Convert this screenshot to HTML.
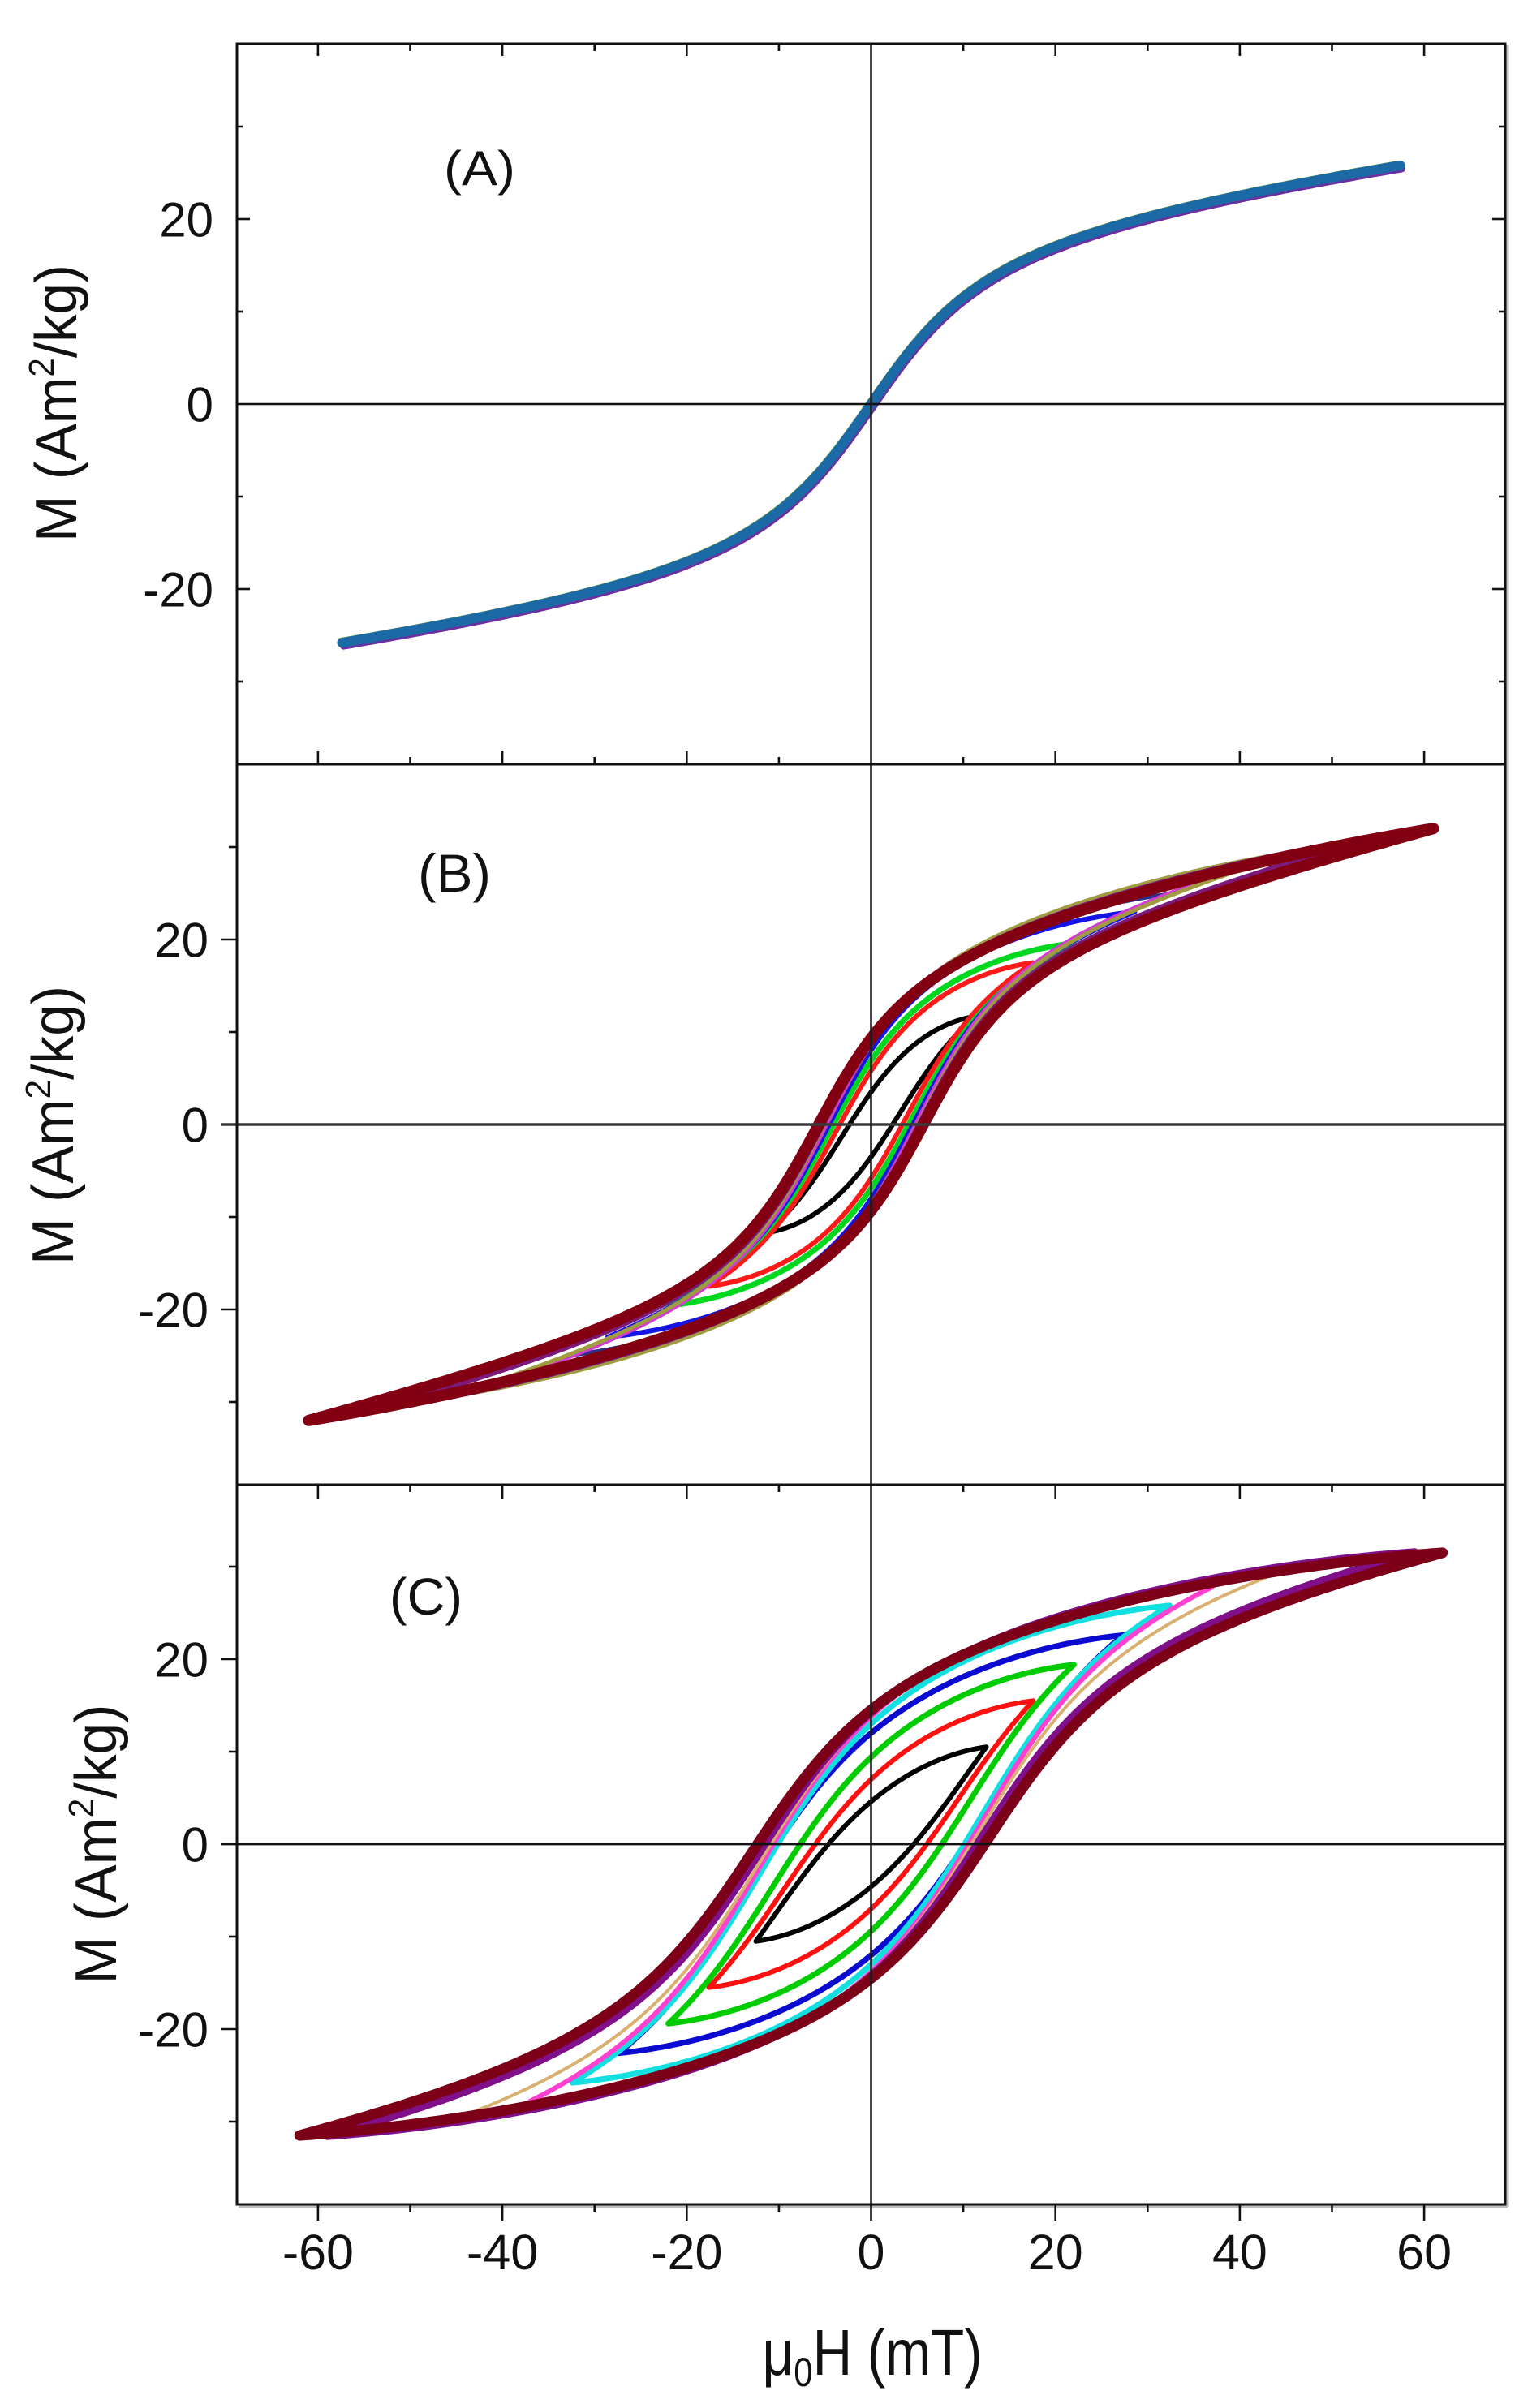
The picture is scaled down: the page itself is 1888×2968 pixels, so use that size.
<!DOCTYPE html>
<html>
<head>
<meta charset="utf-8">
<style>
  html,body{margin:0;padding:0;background:#fff;}
  svg{display:block;}
  text{font-family:"Liberation Sans", Arial, sans-serif; fill:#111;}
</style>
</head>
<body>
<svg id="s" width="1888" height="2968" viewBox="0 0 1888 2968" xmlns="http://www.w3.org/2000/svg">
  <rect x="0" y="0" width="1888" height="2968" fill="#fff"/>

  <!-- curves drawn here by script -->
  <g id="curves"></g>

  <!-- zero lines -->
  <line x1="292" y1="498" x2="1855" y2="498" stroke="#111" stroke-width="2.6"/>
  <line x1="272" y1="1386" x2="1855" y2="1386" stroke="#3a3a3a" stroke-width="3.6"/>
  <line x1="272" y1="2273" x2="1855" y2="2273" stroke="#111" stroke-width="2.8"/>
  <line x1="1073.5" y1="54" x2="1073.5" y2="2717" stroke="#1a1a1a" stroke-width="2.6"/>

  <!-- frame -->
  <line x1="1858" y1="56" x2="1858" y2="2720" stroke="#bdbdbd" stroke-width="3"/>
  <line x1="294" y1="2720" x2="1858" y2="2720" stroke="#bdbdbd" stroke-width="3"/>
  <rect x="292" y="54" width="1563" height="2663" fill="none" stroke="#111" stroke-width="3"/>
  <line x1="292" y1="942" x2="1855" y2="942" stroke="#111" stroke-width="3"/>
  <line x1="292" y1="1830" x2="1855" y2="1830" stroke="#111" stroke-width="3"/>

  <g stroke="#111" stroke-width="2.6">
    <!-- Panel A top ticks (down) -->
    <line x1="391.9" y1="54" x2="391.9" y2="69"/>
    <line x1="505.5" y1="54" x2="505.5" y2="63"/>
    <line x1="619.1" y1="54" x2="619.1" y2="69"/>
    <line x1="732.7" y1="54" x2="732.7" y2="63"/>
    <line x1="846.3" y1="54" x2="846.3" y2="69"/>
    <line x1="959.9" y1="54" x2="959.9" y2="63"/>
    <line x1="1187.1" y1="54" x2="1187.1" y2="63"/>
    <line x1="1300.7" y1="54" x2="1300.7" y2="69"/>
    <line x1="1414.3" y1="54" x2="1414.3" y2="63"/>
    <line x1="1527.9" y1="54" x2="1527.9" y2="69"/>
    <line x1="1641.5" y1="54" x2="1641.5" y2="63"/>
    <line x1="1755.1" y1="54" x2="1755.1" y2="69"/>
    <!-- Panel A bottom ticks (up) -->
    <line x1="391.9" y1="942" x2="391.9" y2="926"/>
    <line x1="505.5" y1="942" x2="505.5" y2="933"/>
    <line x1="619.1" y1="942" x2="619.1" y2="926"/>
    <line x1="732.7" y1="942" x2="732.7" y2="933"/>
    <line x1="846.3" y1="942" x2="846.3" y2="926"/>
    <line x1="959.9" y1="942" x2="959.9" y2="933"/>
    <line x1="1187.1" y1="942" x2="1187.1" y2="933"/>
    <line x1="1300.7" y1="942" x2="1300.7" y2="926"/>
    <line x1="1414.3" y1="942" x2="1414.3" y2="933"/>
    <line x1="1527.9" y1="942" x2="1527.9" y2="926"/>
    <line x1="1641.5" y1="942" x2="1641.5" y2="933"/>
    <line x1="1755.1" y1="942" x2="1755.1" y2="926"/>
    <!-- Panel A left ticks (in) -->
    <line x1="292" y1="156" x2="299" y2="156"/>
    <line x1="292" y1="270" x2="308" y2="270"/>
    <line x1="292" y1="384" x2="299" y2="384"/>
    <line x1="292" y1="612" x2="299" y2="612"/>
    <line x1="292" y1="726" x2="308" y2="726"/>
    <line x1="292" y1="840" x2="299" y2="840"/>
    <!-- Panel A right ticks (in) -->
    <line x1="1855" y1="156" x2="1847" y2="156"/>
    <line x1="1855" y1="270" x2="1839" y2="270"/>
    <line x1="1855" y1="384" x2="1847" y2="384"/>
    <line x1="1855" y1="612" x2="1847" y2="612"/>
    <line x1="1855" y1="726" x2="1839" y2="726"/>
    <line x1="1855" y1="840" x2="1847" y2="840"/>
    <!-- Panel B left ticks (out) -->
    <line x1="282" y1="1044" x2="292" y2="1044"/>
    <line x1="272" y1="1158" x2="292" y2="1158"/>
    <line x1="282" y1="1272" x2="292" y2="1272"/>
    <line x1="282" y1="1500" x2="292" y2="1500"/>
    <line x1="272" y1="1614" x2="292" y2="1614"/>
    <line x1="282" y1="1728" x2="292" y2="1728"/>
    <!-- Panel C top ticks (down) -->
    <line x1="391.9" y1="1830" x2="391.9" y2="1848"/>
    <line x1="505.5" y1="1830" x2="505.5" y2="1839"/>
    <line x1="619.1" y1="1830" x2="619.1" y2="1848"/>
    <line x1="732.7" y1="1830" x2="732.7" y2="1839"/>
    <line x1="846.3" y1="1830" x2="846.3" y2="1848"/>
    <line x1="959.9" y1="1830" x2="959.9" y2="1839"/>
    <line x1="1187.1" y1="1830" x2="1187.1" y2="1839"/>
    <line x1="1300.7" y1="1830" x2="1300.7" y2="1848"/>
    <line x1="1414.3" y1="1830" x2="1414.3" y2="1839"/>
    <line x1="1527.9" y1="1830" x2="1527.9" y2="1848"/>
    <line x1="1641.5" y1="1830" x2="1641.5" y2="1839"/>
    <line x1="1755.1" y1="1830" x2="1755.1" y2="1848"/>
    <!-- Panel C left ticks (out) -->
    <line x1="282" y1="1931" x2="292" y2="1931"/>
    <line x1="272" y1="2045" x2="292" y2="2045"/>
    <line x1="282" y1="2159" x2="292" y2="2159"/>
    <line x1="282" y1="2387" x2="292" y2="2387"/>
    <line x1="272" y1="2501" x2="292" y2="2501"/>
    <line x1="282" y1="2615" x2="292" y2="2615"/>
    <!-- Panel C bottom ticks (out) -->
    <line x1="391.9" y1="2717" x2="391.9" y2="2737"/>
    <line x1="505.5" y1="2717" x2="505.5" y2="2727"/>
    <line x1="619.1" y1="2717" x2="619.1" y2="2737"/>
    <line x1="732.7" y1="2717" x2="732.7" y2="2727"/>
    <line x1="846.3" y1="2717" x2="846.3" y2="2737"/>
    <line x1="959.9" y1="2717" x2="959.9" y2="2727"/>
    <line x1="1073.5" y1="2717" x2="1073.5" y2="2737"/>
    <line x1="1187.1" y1="2717" x2="1187.1" y2="2727"/>
    <line x1="1300.7" y1="2717" x2="1300.7" y2="2737"/>
    <line x1="1414.3" y1="2717" x2="1414.3" y2="2727"/>
    <line x1="1527.9" y1="2717" x2="1527.9" y2="2737"/>
    <line x1="1641.5" y1="2717" x2="1641.5" y2="2727"/>
    <line x1="1755.1" y1="2717" x2="1755.1" y2="2737"/>
  </g>

  <!-- Y tick labels -->
  <g font-size="60" text-anchor="end">
    <text x="263" y="291.5">20</text>
    <text x="263" y="519.5">0</text>
    <text x="263" y="747.5">-20</text>
    <text x="257" y="1179.5">20</text>
    <text x="257" y="1407.5">0</text>
    <text x="257" y="1635.5">-20</text>
    <text x="257" y="2066.5">20</text>
    <text x="257" y="2294.5">0</text>
    <text x="257" y="2522.5">-20</text>
  </g>

  <!-- X tick labels -->
  <g font-size="61" text-anchor="middle">
    <text x="391.9" y="2797">-60</text>
    <text x="619.1" y="2797">-40</text>
    <text x="846.3" y="2797">-20</text>
    <text x="1073.5" y="2797">0</text>
    <text x="1300.7" y="2797">20</text>
    <text x="1527.9" y="2797">40</text>
    <text x="1755.1" y="2797">60</text>
  </g>

  <!-- Panel labels -->
  <text x="547" y="228" font-family="Liberation Sans, Arial, sans-serif" font-size="60" textLength="88" lengthAdjust="spacingAndGlyphs">(A)</text>
  <text x="515" y="1099" font-family="Liberation Serif, Times New Roman, serif" font-size="66" textLength="90" lengthAdjust="spacingAndGlyphs">(B)</text>
  <text x="480" y="1990" font-family="Liberation Sans, Arial, sans-serif" font-size="64" textLength="90" lengthAdjust="spacingAndGlyphs">(C)</text>

  <!-- Y axis titles -->
  <text transform="translate(94,497) rotate(-90)" text-anchor="middle" font-size="72" textLength="342" lengthAdjust="spacingAndGlyphs">M (Am<tspan font-size="44" dy="-28">2</tspan><tspan font-size="72" dy="28">/kg)</tspan></text>
  <text transform="translate(90,1387) rotate(-90)" text-anchor="middle" font-size="72" textLength="344" lengthAdjust="spacingAndGlyphs">M (Am<tspan font-size="44" dy="-28">2</tspan><tspan font-size="72" dy="28">/kg)</tspan></text>
  <text transform="translate(143,2273) rotate(-90)" text-anchor="middle" font-size="72" textLength="345" lengthAdjust="spacingAndGlyphs">M (Am<tspan font-size="44" dy="-28">2</tspan><tspan font-size="72" dy="28">/kg)</tspan></text>

  <!-- X axis title -->
  <text x="1075" y="2927" text-anchor="middle" font-size="80" textLength="271" lengthAdjust="spacingAndGlyphs">μ<tspan font-size="50" dy="14">0</tspan><tspan font-size="80" dy="-14">H (mT)</tspan></text>
</svg>

<script>
(function(){
  var NS='http://www.w3.org/2000/svg';
  var X0=1073.5, SX=11.36, SY=11.4, P=4;
  var g=document.getElementById('curves');
  function add(d,color,w){
    var p=document.createElementNS(NS,'path');
    p.setAttribute('d',d);
    p.setAttribute('fill','none');
    p.setAttribute('stroke',color);
    p.setAttribute('stroke-width',w);
    p.setAttribute('stroke-linejoin','round');
    p.setAttribute('stroke-linecap','round');
    g.appendChild(p);
  }
  function curvePath(f,x1,x2,Y0,dx,dy){
    var d='';
    for(var i=0;i<=400;i++){
      var x=x1+(x2-x1)*i/400;
      d+=(i?'L':'M')+(X0+SX*x+dx).toFixed(1)+','+(Y0-SY*f(x)+dy).toFixed(1);
    }
    return d;
  }
  function deriv(f,x){return (f(x+0.01)-f(x-0.01))/0.02;}
  // U(x)=s*(f(x+c)-D*((1-b)/2 + b*w(x))), w=((x+Hm)/(2Hm))^P ; L(x)=-U(-x)
  function loopPath(f,Hm,Mm,Mr,Y0){
    var target=Mr/Mm, c, best=0.02, bBest=0, w0=Math.pow(0.5,P);
    for(c=0.02;c<Hm*0.95;c+=0.01){
      var D=f(Hm+c)-f(Hm-c);
      var b=0.35*Hm*deriv(f,Hm+c)/D; if(b>1)b=1; if(b<0)b=0;
      var a0=(1-b)/2+b*w0;
      var T=f(Hm+c)-D*(1+b)/2;
      var r=(f(c)-D*a0)/T;
      best=c; bBest=b;
      if(r>=target) break;
    }
    c=best; var b2=bBest;
    var D2=f(Hm+c)-f(Hm-c);
    var T2=f(Hm+c)-D2*(1+b2)/2;
    var s=Mm/T2;
    function U(x){var w=Math.pow((x+Hm)/(2*Hm),P); return s*(f(x+c)-D2*((1-b2)/2+b2*w));}
    var N=300, pts=[], i, x;
    for(i=0;i<=N;i++){x=Hm-2*Hm*i/N; pts.push([x,U(x)]);}
    for(i=1;i<N;i++){x=-Hm+2*Hm*i/N; pts.push([x,-U(-x)]);}
    var d='';
    for(i=0;i<pts.length;i++){
      d+=(i?'L':'M')+(X0+SX*pts[i][0]).toFixed(1)+','+(Y0-SY*pts[i][1]).toFixed(1);
    }
    return d+'Z';
  }

  // Panel A
  var fA=function(x){return 13.01*Math.atan(x/10)+0.1325*x;};
  add(curvePath(fA,-57.4,57.4,498,2,4),'#6a2fa0',9);
  add(curvePath(fA,-57.4,57.4,498,-2,-3),'#8cae3a',6);
  add(curvePath(fA,-57.4,57.4,498,0,0),'#1b6aa5',12);

  // Panel B
  var fB=function(x){return 13.01*Math.atan(x/8)+0.2425*x;};
  var YB=1386;
  var loopsB=[
    [11.3,11.7,3.5,'#000000',6],
    [17.6,17.5,5.8,'#ff1a1a',6],
    [22,19.6,6.9,'#00d820',7],
    [28.6,23,8.0,'#1414e6',6],
    [33,25,8.5,'#2e2e8a',5],
    [38,27,8.8,'#d23cd2',7],
    [46,29.5,9.0,'#a09a40',5],
    [55,31,9.1,'#7b1a7b',10],
    [61,32,9.3,'#820012',14]
  ];
  loopsB.forEach(function(L){add(loopPath(fB,L[0],L[1],L[2],YB),L[3],L[4]);});

  // Panel C
  var fC=function(x){return 15.94*Math.atan(x/12)+0.2014*x;};
  var YC=2273;
  var loopsC=[
    [12.5,10.5,4.6,'#000000',6],
    [17.6,15.5,7.0,'#ff1010',6],
    [22,19.4,9.4,'#00cc00',7],
    [27.4,22.6,12.0,'#0a0ad0',7],
    [32.4,25.8,13.0,'#12e0e0',7],
    [37,27.8,13.8,'#ff40d0',6],
    [44,29.3,14.0,'#d8b070',4],
    [59,31.6,14.2,'#80108a',9],
    [62,31.5,14.5,'#7c0018',13]
  ];
  loopsC.forEach(function(L){add(loopPath(fC,L[0],L[1],L[2],YC),L[3],L[4]);});
})();
</script>
</body>
</html>
